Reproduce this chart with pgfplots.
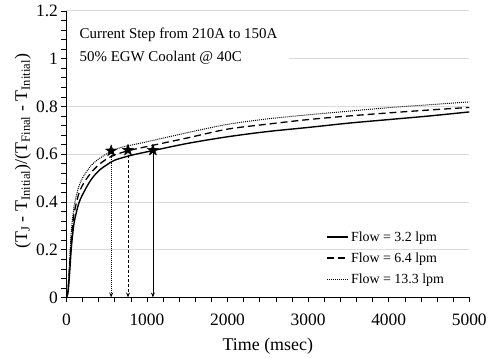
\documentclass[border=0pt]{standalone}
\usepackage{fontspec}
\setmainfont{Liberation Serif}
\usepackage{pgfplots}
\pgfplotsset{compat=1.18}
\usetikzlibrary{arrows.meta}

\pgfdeclareplotmark{fstar}{%
  \pgfpathmoveto{\pgfqpointpolar{90}{\pgfplotmarksize}}%
  \pgfpathlineto{\pgfqpointpolar{126}{0.4\pgfplotmarksize}}%
  \pgfpathlineto{\pgfqpointpolar{162}{\pgfplotmarksize}}%
  \pgfpathlineto{\pgfqpointpolar{198}{0.4\pgfplotmarksize}}%
  \pgfpathlineto{\pgfqpointpolar{234}{\pgfplotmarksize}}%
  \pgfpathlineto{\pgfqpointpolar{270}{0.4\pgfplotmarksize}}%
  \pgfpathlineto{\pgfqpointpolar{306}{\pgfplotmarksize}}%
  \pgfpathlineto{\pgfqpointpolar{342}{0.4\pgfplotmarksize}}%
  \pgfpathlineto{\pgfqpointpolar{18}{\pgfplotmarksize}}%
  \pgfpathlineto{\pgfqpointpolar{54}{0.4\pgfplotmarksize}}%
  \pgfpathclose
  \pgfusepathqfillstroke
}

\begin{document}
\begin{tikzpicture}
\begin{axis}[
  scale only axis, width=405pt, height=288pt,
  xmin=0, xmax=5000, ymin=0, ymax=1.2,
  axis lines*=left,
  axis line style={black, line width=0.7pt},
  xtick={0,1000,2000,3000,4000,5000},
  ytick={0,0.2,0.4,0.6,0.8,1,1.2},
  minor x tick num=4, minor y tick num=4,
  tick align=outside, major tick length=5pt, minor tick length=5pt,
  tick style={black, line width=0.6pt},
  ymajorgrids,
  major grid style={gray!28, line width=0.9pt},
  /pgf/number format/assume math mode=true,
  /pgf/number format/1000 sep={},
  scaled x ticks=false,
  ticklabel style={font=\fontsize{17.5}{19}\selectfont},
  x tick label style={yshift=-8pt},
  label style={font=\fontsize{18}{20}\selectfont},
  xlabel={Time (msec)},
  xlabel style={at={(rel axis cs:0.5,0)}, anchor=base, yshift=-53pt},
  ylabel={(T\textsubscript{J} - T\textsubscript{Initial})/(T\textsubscript{Final} - T\textsubscript{Initial})},
  ylabel style={at={(rel axis cs:-0.108,0.51)}, anchor=center},
  legend style={draw=none, fill=none, at={(rel axis cs:0.64,0.245)}, anchor=north west,
    font=\fontsize{14}{16}\selectfont, row sep=6pt, inner sep=2pt},
  legend image code/.code={\draw[#1] (0cm,0cm) -- (0.75cm,0cm);},
  legend cell align=left,
]
\addplot[black, line width=1.4pt, smooth] coordinates {
(0,0) (20,0.02) (40,0.1) (60,0.2) (80,0.27) (100,0.32) (150,0.39) (200,0.43)
(300,0.49) (400,0.53) (500,0.555) (600,0.575) (800,0.595) (1000,0.61) (1074,0.615)
(1500,0.645) (2000,0.673) (2500,0.695) (3000,0.712) (3500,0.73) (4000,0.745)
(4500,0.76) (5000,0.777)};
\addlegendentry{Flow = 3.2 lpm}
\addplot[black, line width=1.3pt, dash pattern=on 7pt off 4pt, smooth] coordinates {
(0,0) (20,0.03) (40,0.13) (60,0.24) (80,0.31) (100,0.36) (150,0.43) (200,0.47)
(300,0.52) (400,0.555) (500,0.58) (600,0.597) (773,0.615) (1000,0.632) (1500,0.668)
(2000,0.705) (2500,0.726) (3000,0.745) (3500,0.76) (4000,0.773) (4500,0.785) (5000,0.796)};
\addlegendentry{Flow = 6.4 lpm}
\addplot[black, line width=1pt, dash pattern=on 1pt off 1pt, smooth] coordinates {
(0,0) (20,0.04) (40,0.15) (60,0.27) (80,0.34) (100,0.39) (150,0.46) (200,0.50)
(300,0.55) (400,0.58) (556,0.612) (700,0.63) (1000,0.652) (1500,0.69) (2000,0.725)
(2500,0.748) (3000,0.765) (3500,0.78) (4000,0.795) (4500,0.807) (5000,0.819)};
\addlegendentry{Flow = 13.3 lpm}
\addplot[black, line width=0.8pt, dash pattern=on 1pt off 1pt, -{Stealth[length=5pt,width=4pt]}, forget plot] coordinates {(556,0.614) (556,0)};
\addplot[black, line width=0.8pt, dash pattern=on 3pt off 2pt, -{Stealth[length=5pt,width=4pt]}, forget plot] coordinates {(765,0.617) (765,0)};
\addplot[black, line width=0.8pt, -{Stealth[length=5pt,width=4pt]}, forget plot] coordinates {(1074,0.617) (1074,0)};
\addplot[only marks, mark=fstar, mark size=6pt, black, forget plot] coordinates {(556,0.614) (765,0.617) (1074,0.617)};
\node[fill=white, anchor=north west, align=left, inner xsep=12pt, inner ysep=3pt,
  font=\fontsize{15}{22.5}\selectfont] at (rel axis cs:0.003,0.95)
  {Current Step from 210A to 150A\\50\% EGW Coolant @ 40C};
\end{axis}
\path (current axis.south west) ++(-66.7pt,-60pt) (current axis.north east) ++(18.3pt,11pt);
\end{tikzpicture}
\end{document}
